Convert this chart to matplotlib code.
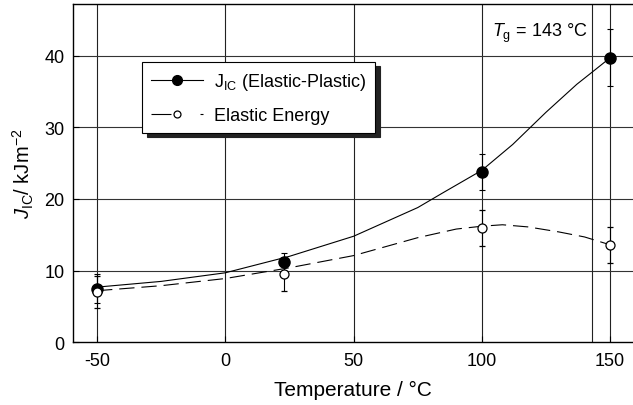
import matplotlib.pyplot as plt
from matplotlib.lines import Line2D

plt.rcParams['font.family'] = ['Liberation Sans', 'DejaVu Sans']
plt.rcParams['mathtext.fontset'] = 'custom'
plt.rcParams['mathtext.rm'] = 'Liberation Sans'
plt.rcParams['mathtext.it'] = 'Liberation Sans:italic'
plt.rcParams['lines.scale_dashes'] = False

# measured points
temps = [-50, 23, 100, 150]
j_ep = [7.5, 11.2, 23.8, 39.7]
j_ep_err = [2.0, 1.2, 2.5, 4.0]
j_el = [7.0, 9.5, 16.0, 13.6]
j_el_err = [2.2, 2.3, 2.5, 2.5]

# fitted trend lines
fit_ep_t = [-50, -25, 0, 25, 50, 75, 85, 100, 112, 125, 137, 143, 150]
fit_ep_j = [7.7, 8.5, 9.7, 12.0, 14.8, 18.8, 20.9, 24.0, 27.6, 32.1, 36.0, 37.7, 39.7]
fit_el_t = [-50, -25, 0, 25, 50, 75, 90, 100, 108, 118, 130, 140, 150]
fit_el_j = [7.2, 7.9, 8.9, 10.4, 12.1, 14.6, 15.8, 16.2, 16.4, 16.1, 15.4, 14.7, 13.6]

tg = 143
x_ticks = [-50, 0, 50, 100, 150]
y_ticks = [0, 10, 20, 30, 40]

fig = plt.figure(figsize=(6.33, 4.06), dpi=100)
ax = fig.add_axes([0.1153, 0.1544, 0.8847, 0.8333])

for x in x_ticks:
    ax.axvline(x, color='#222222', lw=0.8, zorder=1)
for y in y_ticks[1:]:
    ax.axhline(y, color='#333333', lw=0.8, zorder=1)
ax.axvline(tg, color='#222222', lw=0.8, zorder=1)

ax.plot(fit_ep_t, fit_ep_j, color='k', lw=0.8, zorder=2)
dash_line, = ax.plot(fit_el_t, fit_el_j, color='k', lw=0.8, zorder=2)
dash_line.set_dashes([11, 5])

ax.errorbar(temps, j_ep, yerr=j_ep_err, fmt='o', color='k', ms=8,
            elinewidth=0.8, capsize=2.5, capthick=0.8, zorder=3)
ax.errorbar(temps, j_el, yerr=j_el_err, fmt='o', color='k', mfc='white',
            ms=6.5, mew=0.9, elinewidth=0.8, capsize=2.5, capthick=0.8, zorder=3)

ax.set_xlim(-59.4, 158.9)
ax.set_ylim(0, 47.2)
ax.set_xticks(x_ticks)
ax.set_xticklabels(['-50', '0', '50', '100', '150'])
ax.set_yticks(y_ticks)
ax.tick_params(direction='in', length=4, width=0.8, labelsize=13)
ax.tick_params(axis='x', pad=7)
ax.tick_params(axis='y', pad=6)
for side in ['left', 'bottom', 'top']:
    ax.spines[side].set_linewidth(1.0)
ax.spines['right'].set_visible(False)

ax.set_xlabel('Temperature / °C', fontsize=15, labelpad=8)
ax.set_ylabel(r'$J_{\rm IC}$/ kJm$^{-2}$', fontsize=14.5, labelpad=6)

ax.text(141.3, 43.3, r'$T_{\rm g}$ = 143 °C', fontsize=13, ha='right', va='center')

# legend handles: the dashed one shows a long dash, the marker, then a short dash
h_ep = Line2D([], [], color='k', lw=0.8, marker='o', ms=7)
h_el = Line2D([], [], color='k', lw=0.8, marker='o', ms=5, mfc='white', mew=0.9)
h_el.set_dashes([14.4, 20.9, 3.6, 80])
leg = ax.legend([h_ep, h_el], [r'J$_{\rm IC}$ (Elastic-Plastic)', 'Elastic Energy'],
                loc='upper left', bbox_to_anchor=(0.1227, 0.829), fontsize=13,
                frameon=True, fancybox=False,
                shadow={'color': '#222222', 'alpha': 1, 'ox': 3.5, 'oy': -3},
                handlelength=2.9, borderpad=0.5, labelspacing=0.85,
                handletextpad=0.6, borderaxespad=0)
leg.get_frame().set_edgecolor('k')
leg.get_frame().set_linewidth(0.8)

fig.savefig('out.png', dpi=100)
